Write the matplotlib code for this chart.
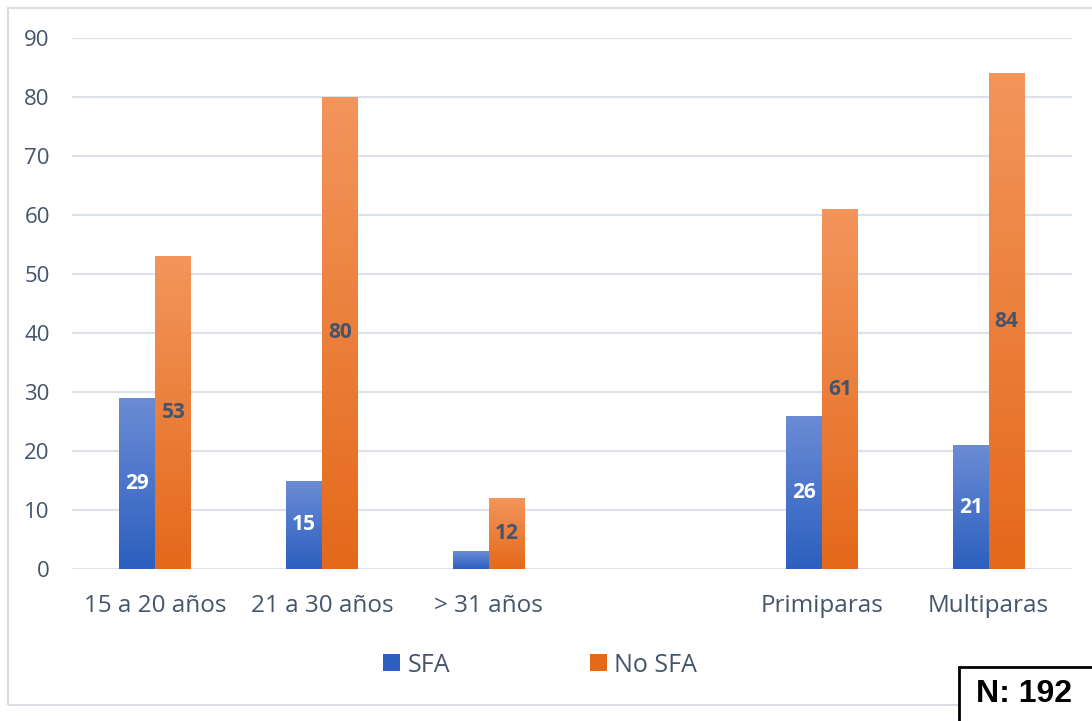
import matplotlib
matplotlib.use("Agg")
import matplotlib.pyplot as plt
import numpy as np
from matplotlib.colors import LinearSegmentedColormap
from matplotlib.patches import Rectangle

categories = ["15 a 20 años", "21 a 30 años", "> 31 años", "", "Primiparas", "Multiparas"]
sfa = [29, 15, 3, None, 26, 21]
no_sfa = [53, 80, 12, None, 61, 84]
series_names = ["SFA", "No SFA"]
yticks = [0, 10, 20, 30, 40, 50, 60, 70, 80, 90]

text_color = "#44546a"
grid_color = "#dde2ea"
blue_top, blue_bot = "#6b8cd5", "#2c5fbf"
orange_top, orange_bot = "#f3955c", "#e4691a"

plt.rcParams['font.family'] = ['Open Sans', 'DejaVu Sans']

fig = plt.figure(figsize=(10.92, 7.21), dpi=100)
fig.patch.set_facecolor("white")

# outer chart border
fig.add_artist(Rectangle((8/1092, 1-705/721), 1.2, (705-8)/721, transform=fig.transFigure,
                         fill=False, edgecolor="#d9dde3", lw=1.5))

ax = fig.add_axes([72/1092, 1-569/721, 1000/1092, (569-38)/721])

x = np.arange(len(categories))
w = 0.216

def gradient_bars(xs, vals, top, bot, offset):
    cmap = LinearSegmentedColormap.from_list("g", [bot, top])
    xx = [xi for xi, v in zip(xs, vals) if v is not None]
    vv = [v for v in vals if v is not None]
    bars = ax.bar(np.array(xx) + offset, vv, width=w, color=bot, align="center", zorder=2)
    grad = np.linspace(0, 1, 256).reshape(-1, 1)
    for b in bars:
        bx, by = b.get_x(), b.get_y()
        bw, bh = b.get_width(), b.get_height()
        im = ax.imshow(grad, cmap=cmap, origin="lower", aspect="auto",
                       extent=[bx, bx+bw, by, by+bh], zorder=3)
        im.set_clip_path(b)
        b.set_facecolor("none")
    return bars

bars1 = gradient_bars(x, sfa, blue_top, blue_bot, -w/2)
bars2 = gradient_bars(x, no_sfa, orange_top, orange_bot, w/2)

ax.set_xlim(-0.5, len(categories)-0.5)
ax.set_ylim(0, 90)

for b in bars1:
    h = b.get_height()
    if h >= 5:
        ax.text(b.get_x()+b.get_width()/2, h/2, f"{h:.0f}", ha="center", va="center",
                color="white", fontsize=15, fontweight="bold", zorder=5)
for b in bars2:
    h = b.get_height()
    if h >= 5:
        ax.text(b.get_x()+b.get_width()/2, h/2, f"{h:.0f}", ha="center", va="center",
                color=text_color, fontsize=15, fontweight="bold", zorder=5)

ax.set_yticks(yticks)
ax.set_yticklabels([str(t) for t in yticks])
ax.set_xticks(x)
ax.set_xticklabels(categories)
ax.tick_params(axis="both", length=0, labelcolor=text_color)
ax.tick_params(axis="y", pad=16, labelsize=16)
ax.tick_params(axis="x", pad=18, labelsize=17.5)
ax.grid(axis="y", color=grid_color, lw=1.5, zorder=0)
ax.set_axisbelow(True)
for s in ax.spines.values():
    s.set_visible(False)

# legend
lh = [Rectangle((0, 0), 1, 1, facecolor=blue_bot), Rectangle((0, 0), 1, 1, facecolor=orange_bot)]
leg = fig.legend(lh, series_names, loc="center", bbox_to_anchor=(540/1092, 1-665/721),
                 ncol=2, frameon=False, fontsize=18, handlelength=0.68, handleheight=0.68,
                 handletextpad=0.28, columnspacing=5.6)
for t in leg.get_texts():
    t.set_color(text_color)

# N box
fig.add_artist(Rectangle((959/1092, -0.05), 0.2, (0.05 + (721-667)/721), transform=fig.transFigure,
                         facecolor="white", edgecolor="black", lw=2, zorder=10))
fig.text(1024/1092, 1-694/721, "N: 192", ha="center", va="center", fontsize=23,
         fontweight="bold", family="Liberation Sans", color="black", zorder=11)

fig.savefig("out.png", dpi=100)
